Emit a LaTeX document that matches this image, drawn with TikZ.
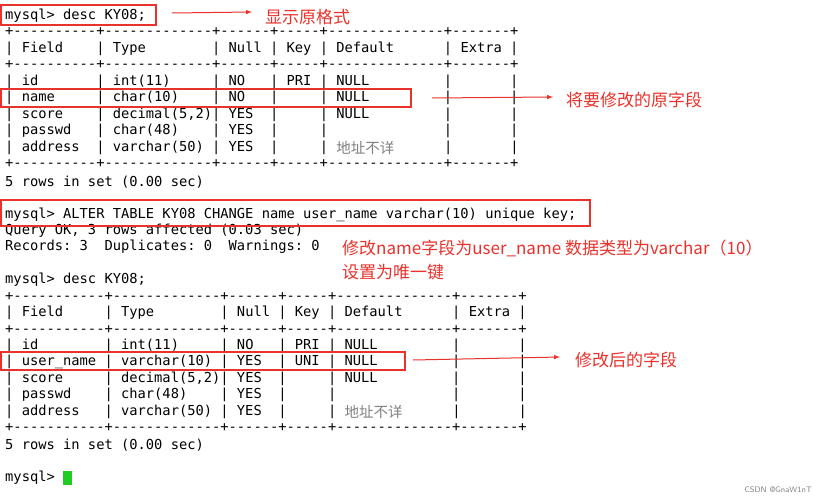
\documentclass[tikz,border=0pt]{standalone}
\usepackage{fontspec}
\setmonofont{DejaVu Sans Mono}
\newfontfamily\cjk{Noto Sans CJK SC}
\definecolor{ann}{HTML}{E8322B}
\definecolor{cur}{HTML}{22CC22}
\begin{document}
\begin{tikzpicture}[x=1pt,y=-1pt,
  ln/.style={anchor=west,inner sep=0pt,font=\ttfamily\fontsize{13.75}{14}\selectfont},
  cj/.style={anchor=west,inner sep=0pt,font=\cjk\fontsize{14.5}{15}\selectfont,text=gray},
  an/.style={anchor=west,inner sep=0pt,font=\cjk\fontsize{17}{20}\selectfont,text=ann},
  rbox/.style={draw=ann,line width=1.3pt},
  rarr/.style={draw=ann,line width=1pt,-latex}]
\useasboundingbox[fill=white] (0,0) rectangle (818,500);
\def\cw{8.28}
% table 1
\node[ln] (l1) at (5,16) {mysql> desc KY08;};
\node[ln] at (5,32) {+----------+-------------+------+-----+--------------+-------+};
\node[ln] at (5,49) {| Field~~~~| Type~~~~~~~~| Null | Key | Default~~~~~~| Extra |};
\node[ln] at (5,65) {+----------+-------------+------+-----+--------------+-------+};
\node[ln] at (5,82) {| id~~~~~~~| int(11)~~~~~| NO~~~| PRI | NULL~~~~~~~~~|~~~~~~~|};
\node[ln] (l2) at (5,98) {| name~~~~~| char(10)~~~~| NO~~~|~~~~~| NULL~~~~~~~~~|~~~~~~~|};
\node[ln] at (5,115) {| score~~~~| decimal(5,2)| YES~~|~~~~~| NULL~~~~~~~~~|~~~~~~~|};
\node[ln] at (5,131) {| passwd~~~| char(48)~~~~| YES~~|~~~~~|~~~~~~~~~~~~~~|~~~~~~~|};
\node[ln] at (5,148) {| address~~| varchar(50)~| YES~~|~~~~~|};
\node[cj] at (5+40*\cw,148) {地址不详};
\node[ln] at (5+53*\cw,148) {|~~~~~~~|};
\node[ln] at (5,164) {+----------+-------------+------+-----+--------------+-------+};
\node[ln] at (5,182) {5 rows in set (0.00 sec)};
% alter
\node[ln] (l3) at (5,215) {mysql> ALTER TABLE KY08 CHANGE name user\_name varchar(10) unique key;};
\node[ln] at (5,231) {Query OK, 3 rows affected (0.03 sec)};
\node[ln] at (5,247) {Records: 3~~Duplicates: 0~~Warnings: 0};
% table 2
\node[ln] at (5,280) {mysql> desc KY08;};
\node[ln] at (5,297) {+-----------+-------------+------+-----+--------------+-------+};
\node[ln] at (5,313) {| Field~~~~~| Type~~~~~~~~| Null | Key | Default~~~~~~| Extra |};
\node[ln] at (5,330) {+-----------+-------------+------+-----+--------------+-------+};
\node[ln] at (5,346) {| id~~~~~~~~| int(11)~~~~~| NO~~~| PRI | NULL~~~~~~~~~|~~~~~~~|};
\node[ln] (l4) at (5,362) {| user\_name | varchar(10) | YES~~| UNI | NULL~~~~~~~~~|~~~~~~~|};
\node[ln] at (5,379) {| score~~~~~| decimal(5,2)| YES~~|~~~~~| NULL~~~~~~~~~|~~~~~~~|};
\node[ln] at (5,395) {| passwd~~~~| char(48)~~~~| YES~~|~~~~~|~~~~~~~~~~~~~~|~~~~~~~|};
\node[ln] at (5,412) {| address~~~| varchar(50)~| YES~~|~~~~~|};
\node[cj] at (5+41*\cw,412) {地址不详};
\node[ln] at (5+54*\cw,412) {|~~~~~~~|};
\node[ln] at (5,428) {+-----------+-------------+------+-----+--------------+-------+};
\node[ln] at (5,445) {5 rows in set (0.00 sec)};
\node[ln] (pr) at (5,478) {mysql>};
\fill[cur] (63,471) rectangle (72,485);
% annotations
\draw[rbox] (1,5) rectangle (156,25);
\draw[rbox] (1,89) rectangle (411,107);
\draw[rbox] (1,200) rectangle (590,226);
\draw[rbox] (1,352) rectangle (405,370);
\node[an] (t1) at (265,17) {显示原格式};
\node[an] (t2) at (566,100) {将要修改的原字段};
\node[an] (t3) at (342,248) {修改name字段为user\_name 数据类型为varchar（10）};
\node[an] (t3b) at (342,272) {设置为唯一键};
\node[an] (t4) at (575,360) {修改后的字段};
\coordinate (a1) at (172,13); \coordinate (b1) at (252,12);
\coordinate (a2) at (432,98); \coordinate (b2) at (553,97);
\coordinate (a4) at (413,360); \coordinate (b4) at (560,357);
\draw[rarr] (a1) -- (b1);
\draw[rarr] (a2) -- (b2);
\draw[rarr] (a4) -- (b4);
\node[anchor=east,inner sep=0pt,font=\sffamily\fontsize{8}{9}\selectfont,text=gray] (wm) at (812,490) {CSDN @GnaW1nT};
\end{tikzpicture}
\end{document}
